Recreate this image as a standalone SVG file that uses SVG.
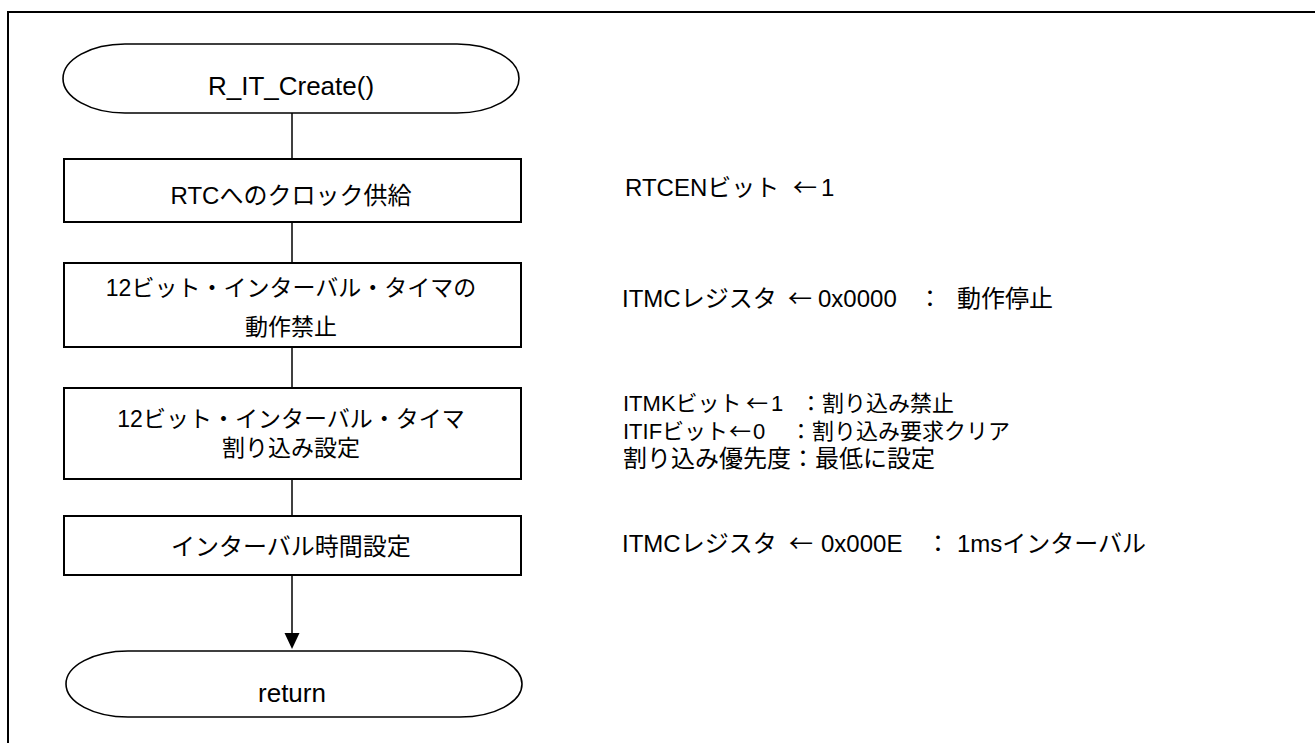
<svg xmlns="http://www.w3.org/2000/svg" width="1315" height="743" viewBox="0 0 1315 743">
<defs>
<style>
text{font-family:"Liberation Sans","Noto Sans CJK JP",Arial,sans-serif;font-size:23px;fill:#000}
.c{text-anchor:middle}
.m{font-size:24px}
.big{font-size:26px}
.n text{font-size:24px}
.n text.s{font-size:22px}
.ar{font-family:"Noto Sans CJK JP",sans-serif}
.box{fill:#fff;stroke:#000;stroke-width:2}
.term{fill:#fff;stroke:#000;stroke-width:1.6}
.conn{stroke:#000;stroke-width:1.5;fill:none}
</style>
</defs>
<rect width="1315" height="743" fill="#fff"/>
<path d="M8,743 V12 H1315" fill="none" stroke="#000" stroke-width="2"/>
<g id="connectors">
<line class="conn" x1="292" y1="113" x2="292" y2="159"/>
<line class="conn" x1="292" y1="222" x2="292" y2="263"/>
<line class="conn" x1="292" y1="347" x2="292" y2="388"/>
<line class="conn" x1="292" y1="479" x2="292" y2="516"/>
<path d="M292,575 V634" class="conn"/>
<path d="M284.5,633 L299.5,633 L292,649 Z" fill="#000"/>
</g>
<g id="start">
<path class="term" d="M125,44 H457 A62,34.5 0 0 1 457,113 H125 A62,34.5 0 0 1 125,44 Z"/>
<text class="c big" x="291" y="95">R_IT_Create()</text>
</g>
<g id="step1">
<rect class="box" x="64" y="159" width="457" height="63"/>
<text class="c m" x="291" y="204">RTCへのクロック供給</text>
</g>
<g id="step2">
<rect class="box" x="64" y="263" width="457" height="84"/>
<text class="c" x="291" y="296">12ビット・インターバル・タイマの</text>
<text class="c" x="291" y="335">動作禁止</text>
</g>
<g id="step3">
<rect class="box" x="64" y="388" width="457" height="91"/>
<text class="c" x="291" y="427">12ビット・インターバル・タイマ</text>
<text class="c" x="291" y="456">割り込み設定</text>
</g>
<g id="step4">
<rect class="box" x="64" y="516" width="457" height="59"/>
<text class="c m" x="291" y="555">インターバル時間設定</text>
</g>
<g id="return">
<path class="term" d="M128,651 H460 A62,33 0 0 1 460,717 H128 A62,33 0 0 1 128,651 Z"/>
<text class="c big" x="292" y="702">return</text>
</g>
<g id="notes" class="n">
<text y="196"><tspan x="625">RTCENビット</tspan><tspan class="ar" x="793">←</tspan><tspan x="821">1</tspan></text>
<text y="307"><tspan x="622">ITMCレジスタ</tspan><tspan class="ar" x="788">←</tspan><tspan x="818">0x0000</tspan><tspan x="918">：</tspan><tspan x="957">動作停止</tspan></text>
<text class="s" y="411"><tspan x="623">ITMKビット</tspan><tspan class="ar" x="746">←</tspan><tspan x="771">1</tspan><tspan x="800">：</tspan><tspan x="822">割り込み禁止</tspan></text>
<text class="s" y="439"><tspan x="623">ITIFビット</tspan><tspan class="ar" x="729">←</tspan><tspan x="753">0</tspan><tspan x="790">：</tspan><tspan x="812">割り込み要求クリア</tspan></text>
<text y="467" x="623">割り込み優先度：最低に設定</text>
<text y="552"><tspan x="622">ITMCレジスタ</tspan><tspan class="ar" x="789">←</tspan><tspan x="821">0x000E</tspan><tspan x="926">：</tspan><tspan x="957">1msインターバル</tspan></text>
</g>
</svg>
